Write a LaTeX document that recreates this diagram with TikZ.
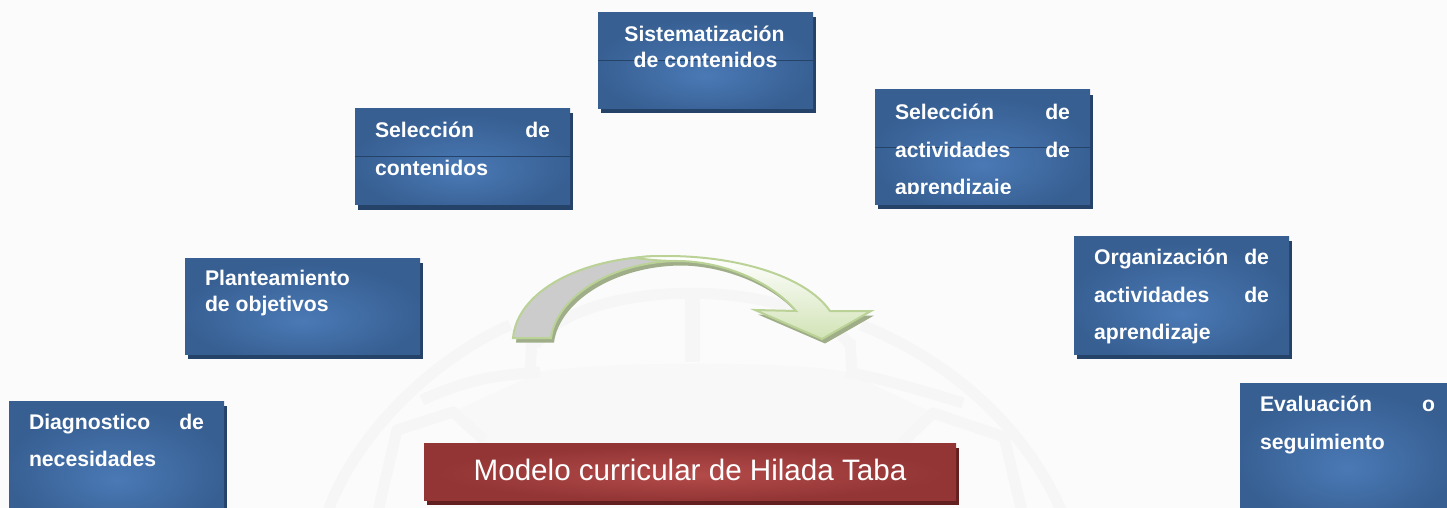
\documentclass[tikz,border=0pt]{standalone}
\usepackage{fontspec}
\setmainfont{Liberation Sans}
\usetikzlibrary{shadows}
\definecolor{bluemid}{HTML}{4A79B5}
\definecolor{blueedge}{HTML}{375F92}
\definecolor{blueshadow}{HTML}{254269}
\definecolor{redmid}{HTML}{B34B4A}
\definecolor{rededge}{HTML}{933535}
\definecolor{redshadow}{HTML}{622020}
\definecolor{paper}{HTML}{FBFBFB}
\definecolor{globeline}{HTML}{F6F6F6}
\definecolor{globefill}{HTML}{F8F8F8}
\definecolor{arrowline}{HTML}{BAD296}
\definecolor{arrowshadow}{HTML}{9FAE89}
\definecolor{arrowgreen}{HTML}{D2E3B6}
\pgfdeclareradialshading{blueglow}{\pgfpoint{0bp}{-8bp}}{color(0bp)=(bluemid);color(26bp)=(blueedge);color(50bp)=(blueedge)}
\pgfdeclareradialshading{redglow}{\pgfpoint{0bp}{-3bp}}{color(0bp)=(redmid);color(24bp)=(rededge);color(50bp)=(rededge)}
\tikzset{
  x=1pt,y=-1pt,
  boxtext/.style={anchor=north west,inner xsep=20pt,inner ysep=0pt,outer sep=0pt,
    text=white,font=\fontsize{21.2}{26}\selectfont\bfseries},
  bluebox/.style={boxtext,shading=blueglow,
    general shadow={shadow xshift=2.5pt,shadow yshift=-5pt,fill=blueshadow}},
  midline/.style={path picture={\draw[blueshadow,line width=.9pt]
    (path picture bounding box.west) -- (path picture bounding box.east);}},
  redbox/.style={anchor=north west,inner sep=0pt,outer sep=0pt,minimum width=532pt,minimum height=57pt,
    shading=redglow,text=white,font=\fontsize{29.6}{34}\selectfont,
    general shadow={shadow xshift=3pt,shadow yshift=-5pt,fill=redshadow}},
  markline/.style={draw=globeline,line width=11pt,line join=round},
  arrowedge/.style={draw=arrowline,line width=2pt,line join=miter}
}
\newcommand{\boxbody}[4]{\parbox[b][#2pt][t]{#1pt}{\vspace*{#3pt}\setlength{\parindent}{0pt}\setlength{\parfillskip}{0pt plus 1fil}#4}}
\newcommand{\wideline}{\lineskiplimit=-100pt\baselineskip=37.5pt}
\begin{document}
\begin{tikzpicture}
\useasboundingbox (0,0) rectangle (1447,508);
\clip (0,0) rectangle (1447,508);
\fill[paper] (0,0) rectangle (1447,508);
% watermark globe
\fill[globefill] (540,372) .. controls (590,362) and (790,360) .. (846,372) -- (933,413) -- (902,450)
  -- (484,450) -- (453,412) -- cycle;
\draw[markline] (325,520) .. controls (350,440) and (430,360) .. (510,325);
\draw[markline] (1065,520) .. controls (1030,430) and (950,360) .. (861,325);
\draw[markline] (535,345) .. controls (580,276) and (800,276) .. (850,345);
\fill[globeline] (685,295) rectangle (700,362);
\draw[markline] (532,340) -- (530,372);
\draw[markline] (850,340) -- (852,372);
\draw[markline] (422,400) .. controls (470,378) and (500,375) .. (540,372);
\draw[markline] (846,372) .. controls (880,378) and (920,390) .. (963,403);
\draw[markline] (376,520) -- (397,430) -- (453,412) -- (484,440);
\draw[markline] (1024,520) -- (1004,437) -- (933,413) -- (902,443);
% boxes
\node[bluebox,midline] (sist) at (598,12.5) {\boxbody{175}{96}{13.5}{\centering\hspace*{-2pt}Sistematización\\de contenidos}};
\node[bluebox,midline] (selcont) at (355,108.5) {\boxbody{175}{96}{13.5}{\wideline Selección\hfill de\\contenidos}};
\node[bluebox,midline,minimum width=215pt,minimum height=114pt] (selact) at (875,90) {};
\begin{scope}
  \clip (875,90) rectangle (1090,193.5);
  \node[boxtext] (selacttext) at (875,90) {\boxbody{175}{114}{14}{\wideline Selección\hfill de\\actividades\hfill de\\aprendizaje}};
\end{scope}
\node[bluebox] (plant) at (185,258) {\boxbody{195}{96}{12}{Planteamiento\\de objetivos}};
\node[bluebox] (org) at (1074,236) {\boxbody{175}{118}{13}{\wideline Organización\hfill de\\actividades\hfill de\\aprendizaje}};
\node[bluebox] (diag) at (9,401) {\boxbody{175}{120}{13}{\wideline Diagnostico\hfill de\\necesidades}};
\node[bluebox] (eval) at (1240,383) {\boxbody{175}{130}{13}{\wideline Evaluación\hfill o\\seguimiento}};
\node[redbox] (title) at (424,443) {\raisebox{4pt}{Modelo curricular de Hilada Taba}};
% curved arrow
\fill[arrowshadow,xshift=3pt,yshift=-4.5pt]
  (513,338) .. controls (517,292) and (580,256) .. (667,256)
  .. controls (735,256) and (805,275) .. (830,311) -- (871,311) -- (822,339) -- (755,310) -- (796,311)
  .. controls (770,280) and (720,261) .. (677,261)
  .. controls (610,262) and (556,298) .. (551,338) -- cycle;
\path[fill=black!20,arrowedge]
  (513,338) .. controls (517,292) and (580,256) .. (667,256) -- (677,261)
  .. controls (610,262) and (556,298) .. (551,338) -- cycle;
\path[top color=white,bottom color=arrowgreen,arrowedge]
  (635,258) .. controls (645,256) and (655,256) .. (667,256)
  .. controls (735,256) and (805,275) .. (830,311) -- (871,311) -- (822,339) -- (755,310) -- (796,311)
  .. controls (770,280) and (720,261) .. (677,261)
  .. controls (665,261) and (650,260) .. (635,258) -- cycle;
\end{tikzpicture}
\end{document}
